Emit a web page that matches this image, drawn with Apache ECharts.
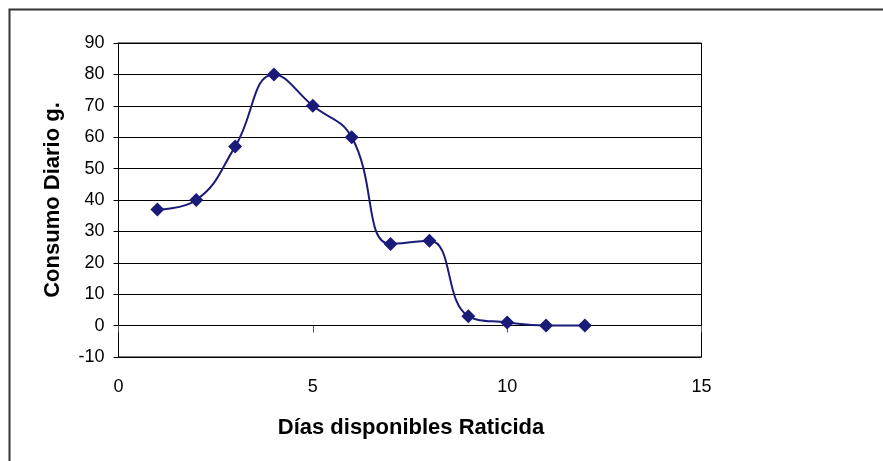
<!DOCTYPE html>
<html>
<head>
<meta charset="utf-8">
<script src="https://cdn.jsdelivr.net/npm/echarts@6/dist/echarts.min.js"></script>
<style>
  html, body { margin: 0; padding: 0; background: #fff; }
  #chart { width: 883px; height: 461px; }
</style>
</head>
<body>
<div id="chart"></div>
<script>
// Daily consumption (g) per day the rodenticide was available
const days = [1, 2, 3, 4, 5, 6, 7, 8, 9, 10, 11, 12];
const consumo = [37, 40, 57, 80, 70, 60, 26, 27, 3, 1, 0, 0];
const xTitle = 'Días disponibles Raticida';
const yTitle = 'Consumo Diario g.';

const points = days.map((d, i) => [d, consumo[i]]);
const font = '"Liberation Sans", Arial, sans-serif';
const navy = '#1a1a78';

const chart = echarts.init(document.getElementById('chart'), null, { renderer: 'canvas' });
chart.setOption({
  animation: false,
  backgroundColor: '#fff',
  graphic: [{
    type: 'rect',
    shape: { x: 9.5, y: 9.5, width: 900, height: 500 },
    style: { fill: 'none', stroke: '#333', lineWidth: 2 },
    silent: true
  }, {
    type: 'text',
    style: { text: xTitle, x: 411, y: 428, align: 'center', verticalAlign: 'middle',
             font: 'bold 22px ' + font, fill: '#000' }
  }],
  grid: {
    left: 118.5, top: 43, width: 583, height: 314,
    show: true, borderColor: '#000', borderWidth: 1, backgroundColor: 'transparent'
  },
  xAxis: [{
    type: 'value', min: 0, max: 15, interval: 5,
    axisLine: { show: false, onZero: false },
    axisTick: { show: false },
    splitLine: { show: false },
    axisLabel: { fontFamily: font, fontSize: 18, color: '#000', margin: 21 }
  }, {
    type: 'value', min: 0, max: 15, interval: 5, position: 'bottom',
    axisLine: { show: true, onZero: true, lineStyle: { color: '#000', width: 1 } },
    axisTick: { show: true, length: 7, lineStyle: { color: '#555', width: 1 } },
    axisLabel: { show: false },
    splitLine: { show: false }
  }],
  yAxis: {
    type: 'value', min: -10, max: 90, interval: 10,
    name: yTitle, nameLocation: 'middle', nameGap: 55, nameRotate: 90,
    nameTextStyle: { fontFamily: font, fontSize: 22, fontWeight: 'bold', color: '#000' },
    axisLine: { show: true, lineStyle: { color: '#000', width: 1 } },
    axisTick: { show: true, length: 5, lineStyle: { color: '#000' } },
    splitLine: { show: true, lineStyle: { color: '#000', width: 1 } },
    axisLabel: { fontFamily: font, fontSize: 18, color: '#000', margin: 14 }
  },
  series: [{
    type: 'line',
    xAxisIndex: 0,
    data: points,
    smooth: 0.45,
    symbol: 'diamond',
    symbolSize: 14,
    itemStyle: { color: navy },
    lineStyle: { color: navy, width: 2 }
  }]
});
</script>
</body>
</html>
